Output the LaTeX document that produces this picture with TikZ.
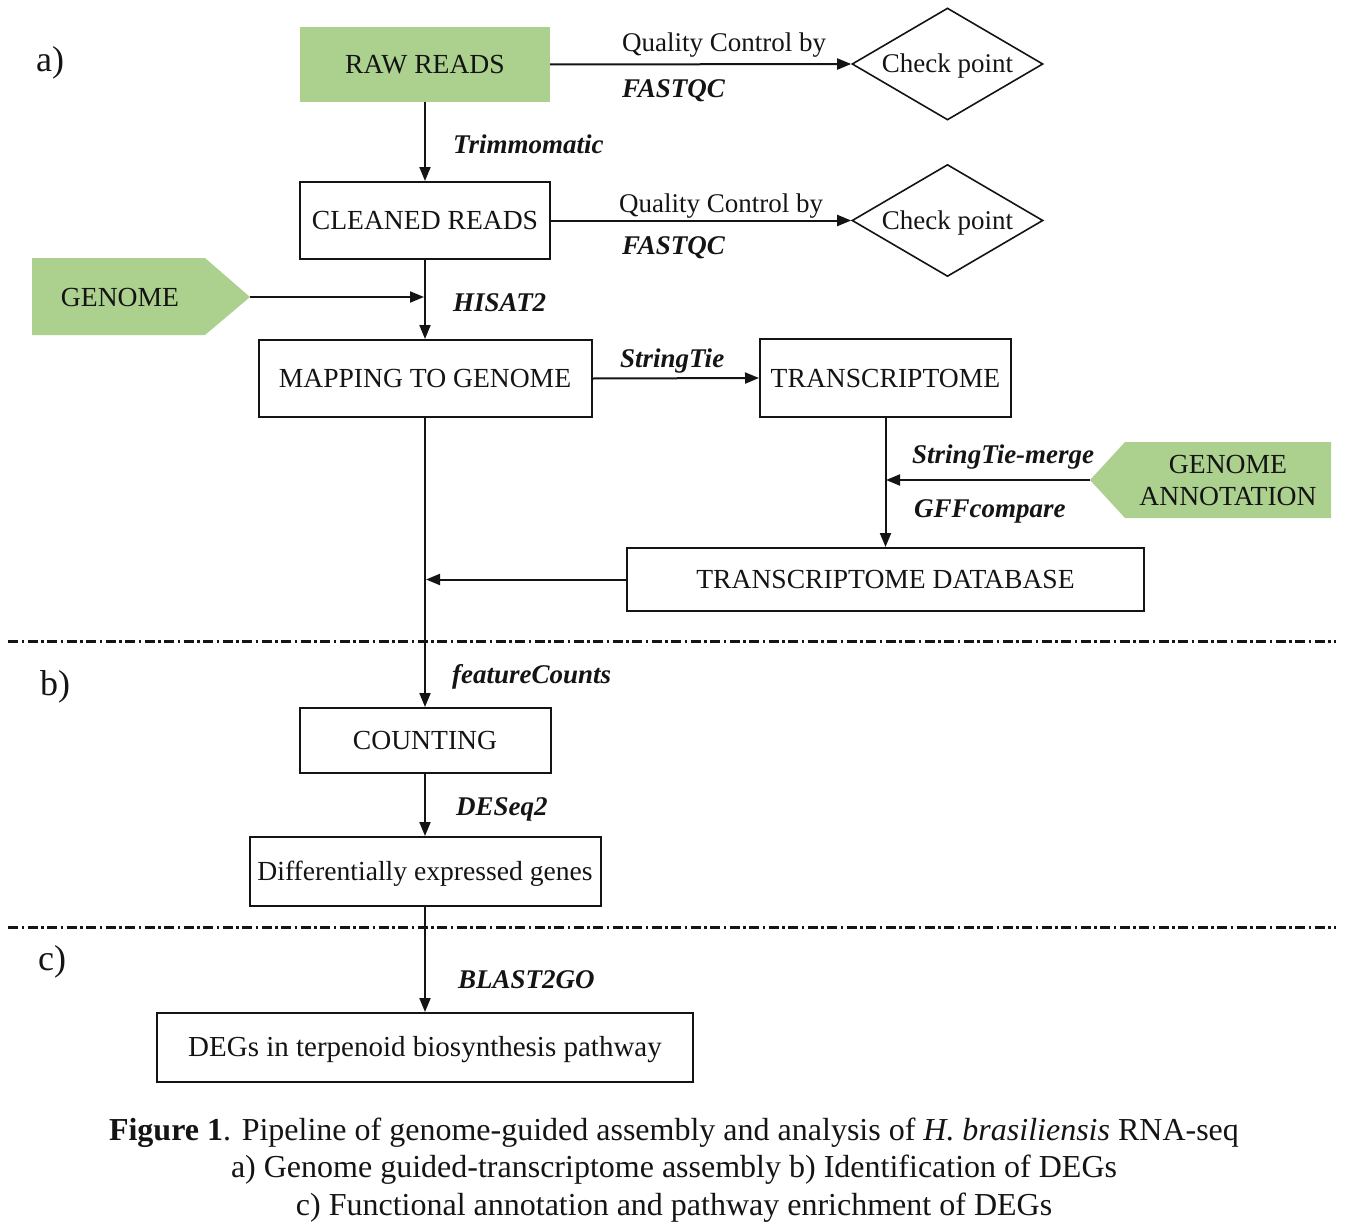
\documentclass[tikz,border=0pt]{standalone}
\usepackage{fontspec}
\setmainfont{Liberation Serif}
\usetikzlibrary{shapes.geometric,arrows.meta}
\definecolor{lgreen}{RGB}{172,208,142}
\definecolor{ink}{RGB}{20,20,20}
\begin{document}
\begin{tikzpicture}[x=1pt,y=-1pt,
  every node/.style={font=\fontsize{27}{32}\selectfont, text=ink},
  box/.style={draw=ink, line width=2pt, inner sep=0pt, text height=18pt, text depth=0pt, font=\fontsize{27.6}{32}\selectfont},
  gbox/.style={fill=lgreen, inner sep=0pt, text height=18pt, text depth=0pt, font=\fontsize{27.6}{32}\selectfont},
  chk/.style={draw=ink, line width=1.6pt, diamond, aspect=1.7, inner sep=0pt, minimum width=191pt, minimum height=112pt, text height=18pt, text depth=0pt},
  lbl/.style={anchor=base west, inner sep=0pt},
  tool/.style={anchor=base west, inner sep=0pt, font=\fontsize{27}{32}\selectfont\bfseries\itshape},
  sec/.style={inner sep=0pt, font=\fontsize{36}{40}\selectfont},
  captxt/.style={anchor=base, inner sep=0pt, font=\fontsize{32}{38}\selectfont},
  arr/.style={draw=ink, line width=2pt, -{Triangle[length=14pt,width=11pt]}},
  sepline/.style={draw=ink, line width=3pt, dash pattern=on 10pt off 3.5pt on 2.5pt off 3.5pt}
]
\useasboundingbox (0,0) rectangle (1348,1228);

% section labels
\node[sec] (la) at (50,63) {a)};
\node[sec] (lb) at (55,687) {b)};
\node[sec] (lc) at (52,962) {c)};

% separators
\coordinate (s1a) at (8,641); \coordinate (s1b) at (1336,641);
\coordinate (s2a) at (8,927); \coordinate (s2b) at (1336,927);
\draw[sepline] (s1a) -- (s1b);
\draw[sepline] (s2a) -- (s2b);

% green pentagons
\fill[lgreen] (32,258) -- (205,258) -- (250,297) -- (205,335) -- (32,335) -- cycle;
\node[inner sep=0pt, text height=18pt, text depth=0pt, font=\fontsize{27.6}{32}\selectfont] (genome) at (120,297) {GENOME};
\coordinate (gtip) at (250,297);

\fill[lgreen] (1090,480) -- (1125,442) -- (1331,442) -- (1331,518) -- (1125,518) -- cycle;
\node[inner sep=0pt, align=center, font=\fontsize{27.6}{32}\selectfont] (annot) at (1228,480) {GENOME\\ANNOTATION};
\coordinate (atip) at (1090,480);

% boxes
\node[gbox, minimum width=250pt, minimum height=75pt] (raw) at (425,64.5) {RAW READS};
\node[box, minimum width=250pt, minimum height=77pt] (clean) at (425,220.5) {CLEANED READS};
\node[box, minimum width=333pt, minimum height=77pt] (map) at (425,378.5) {MAPPING TO GENOME};
\node[box, minimum width=251pt, minimum height=78pt] (trans) at (885.5,378) {TRANSCRIPTOME};
\node[box, minimum width=517pt, minimum height=63pt] (tdb) at (885.5,579.5) {TRANSCRIPTOME DATABASE};
\node[box, minimum width=251pt, minimum height=65pt] (count) at (425,740.5) {COUNTING};
\node[box, minimum width=351pt, minimum height=69pt] (deg) at (425,871.5) {Differentially expressed genes};
\node[box, minimum width=536pt, minimum height=69pt, font=\fontsize{29}{34}\selectfont] (path) at (425,1047.5) {DEGs in terpenoid biosynthesis pathway};

% diamonds
\node[chk] (cp1) at (947.5,64) {Check point};
\node[chk] (cp2) at (947.5,220.5) {Check point};

% junctions
\coordinate (j1) at (424,297);
\coordinate (j2) at (886,480);
\coordinate (j3) at (426,579.5);

% connectors
\draw[arr] (raw.east) -- (cp1.west);
\draw[arr] (clean.east) -- (cp2.west);
\draw[arr] (raw) -- (clean);
\draw[arr] (clean) -- (map);
\draw[arr] (gtip) -- (j1);
\draw[arr] (map.east) -- (trans.west);
\draw[arr] (trans) -- (tdb);
\draw[arr] (atip) -- (j2);
\draw[arr] (tdb.west) -- (j3);
\draw[arr] (map) -- (count);
\draw[arr] (count) -- (deg);
\draw[arr] (deg) -- (path);

% labels
\node[lbl] (q1) at (622,52) {Quality Control by};
\node[tool] (f1) at (622,98) {FASTQC};
\node[lbl] (q2) at (619,212) {Quality Control by};
\node[tool] (f2) at (622,254) {FASTQC};
\node[tool] (t1) at (453,153) {Trimmomatic};
\node[tool] (t2) at (453,311) {HISAT2};
\node[tool] (t3) at (620,367) {StringTie};
\node[tool] (t4) at (912,463) {StringTie-merge};
\node[tool] (t5) at (914,517) {GFFcompare};
\node[tool] (t6) at (452,683) {featureCounts};
\node[tool] (t7) at (456,815) {DESeq2};
\node[tool] (t8) at (458,988) {BLAST2GO};

% caption
\node[captxt] (c1) at (674,1140) {\textbf{Figure 1}. Pipeline of genome-guided assembly and analysis of \textit{H. brasiliensis} RNA-seq};
\node[captxt] (c2) at (674,1177) {a) Genome guided-transcriptome assembly b) Identification of DEGs};
\node[captxt] (c3) at (674,1215) {c) Functional annotation and pathway enrichment of DEGs};
\end{tikzpicture}
\end{document}
